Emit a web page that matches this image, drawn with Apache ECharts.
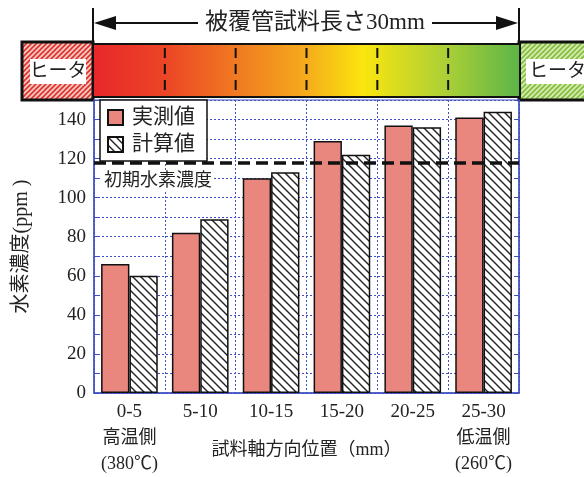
<!DOCTYPE html>
<html><head><meta charset="utf-8">
<script src="https://cdn.jsdelivr.net/npm/echarts@6/dist/echarts.min.js"></script>
<style>html,body{margin:0;padding:0;background:#fff}#c{width:584px;height:477px}</style>
</head><body><div id="c"></div>
<script>
// ---- data ----
const categories = ['0-5', '5-10', '10-15', '15-20', '20-25', '25-30'];
const subLabels = ['高温側', '', '', '', '', '低温側'];
const tempLabels = ['(380℃)', '', '', '', '', '(260℃)'];
const measured = [66, 82, 110, 129, 137, 141];
const calculated = [60, 89, 113, 122, 136, 144];
const initialConc = 118;
const seriesNames = ['実測値', '計算値'];
const yMax = 150;

// ---- helpers ----
function hatch(size, color, bg, dir, lw) {
  const c = document.createElement('canvas');
  c.width = c.height = size;
  const g = c.getContext('2d');
  g.fillStyle = bg; g.fillRect(0, 0, size, size);
  g.strokeStyle = color; g.lineWidth = lw; g.beginPath();
  if (dir === '\\') {
    g.moveTo(-1, -1); g.lineTo(size + 1, size + 1);
    g.moveTo(-1, size - 1); g.lineTo(1, size + 1);
    g.moveTo(size - 1, -1); g.lineTo(size + 1, 1);
  } else {
    g.moveTo(-1, size + 1); g.lineTo(size + 1, -1);
    g.moveTo(-1, 1); g.lineTo(1, -1);
    g.moveTo(size - 1, size + 1); g.lineTo(size + 1, size - 1);
  }
  g.stroke();
  return c;
}
const FONT = '"Liberation Serif", "Noto Sans CJK JP", serif';
const BLUE = '#3e4fc2';
const GRID_L = 94, GRID_R = 519, GRID_T = 100, GRID_B = 393;
const W = 584, H = 477;

const barHatch = { image: hatch(8, '#222', '#fff', '\\', 1.4), repeat: 'repeat' };
const redHeater = { image: hatch(5, '#e0302c', '#f7c9c2', '/', 1.6), repeat: 'repeat' };
const greenHeater = { image: hatch(5, '#84bd3c', '#d5eab0', '/', 1.6), repeat: 'repeat' };

const chart = echarts.init(document.getElementById('c'), null, { renderer: 'canvas' });

// decoration on top (heater / gradient sample bar)
const graphics = [];
const topY = 44, botY = 97;
graphics.push({ type: 'rect', shape: { x: 22, y: 42, width: 71, height: 58 }, style: { fill: redHeater, stroke: '#111', lineWidth: 3 } });
graphics.push({ type: 'rect', shape: { x: 30, y: 59, width: 56, height: 25 }, style: { fill: '#fff' } });
graphics.push({ type: 'text', x: 58, y: 72, style: { text: 'ヒータ', font: '19px ' + FONT, fill: '#222', align: 'center', verticalAlign: 'middle' } });
graphics.push({ type: 'rect', shape: { x: GRID_R, y: 42, width: 80, height: 58 }, style: { fill: greenHeater, stroke: '#111', lineWidth: 3 } });
graphics.push({ type: 'rect', shape: { x: 526, y: 59, width: 62, height: 25 }, style: { fill: '#fff' } });
graphics.push({ type: 'text', x: 529, y: 72, style: { text: 'ヒータ', font: '19px ' + FONT, fill: '#222', align: 'left', verticalAlign: 'middle' } });
graphics.push({ type: 'rect', shape: { x: GRID_L - 1, y: topY, width: GRID_R - GRID_L + 2, height: botY - topY },
  style: { stroke: '#111', lineWidth: 2, fill: { type: 'linear', x: 0, y: 0, x2: 1, y2: 0, colorStops: [
    { offset: 0, color: '#e8262b' }, { offset: 0.17, color: '#ec4526' }, { offset: 0.34, color: '#f07b22' },
    { offset: 0.5, color: '#f5ab1b' }, { offset: 0.63, color: '#fbe50f' }, { offset: 0.83, color: '#a9cf37' },
    { offset: 1, color: '#5bb447' }] } } });
for (let i = 1; i < categories.length; i++) {
  const x = GRID_L + i * (GRID_R - GRID_L) / categories.length;
  graphics.push({ type: 'line', shape: { x1: x, y1: topY + 4, x2: x, y2: botY - 4 }, style: { stroke: '#111', lineWidth: 2, lineDash: [10, 6] } });
}
// length arrow
const ay = 23;
graphics.push({ type: 'line', shape: { x1: GRID_L - 1, y1: 8, x2: GRID_L - 1, y2: 42 }, style: { stroke: '#111', lineWidth: 2 } });
graphics.push({ type: 'line', shape: { x1: GRID_R, y1: 8, x2: GRID_R, y2: 42 }, style: { stroke: '#111', lineWidth: 2 } });
graphics.push({ type: 'line', shape: { x1: GRID_L + 18, y1: ay, x2: 198, y2: ay }, style: { stroke: '#111', lineWidth: 2 } });
graphics.push({ type: 'line', shape: { x1: 432, y1: ay, x2: GRID_R - 18, y2: ay }, style: { stroke: '#111', lineWidth: 2 } });
graphics.push({ type: 'polygon', shape: { points: [[GRID_L, ay], [GRID_L + 22, ay - 7], [GRID_L + 22, ay + 7]] }, style: { fill: '#111' } });
graphics.push({ type: 'polygon', shape: { points: [[GRID_R - 1, ay], [GRID_R - 23, ay - 7], [GRID_R - 23, ay + 7]] }, style: { fill: '#111' } });
graphics.push({ type: 'text', x: 315, y: ay, style: { text: '被覆管試料長さ30mm', font: '23px ' + FONT, fill: '#222', align: 'center', verticalAlign: 'middle' } });

const option = {
  animation: false,
  backgroundColor: '#fff',
  textStyle: { fontFamily: FONT },
  grid: { left: GRID_L, right: W - GRID_R, top: GRID_T, bottom: H - GRID_B, show: true, borderColor: BLUE, borderWidth: 1,
    backgroundColor: 'transparent', containLabel: false, outerBoundsMode: 'none' },
  legend: {
    left: 100, top: 100, orient: 'vertical', icon: 'rect',
    itemWidth: 15, itemHeight: 15, itemGap: 6,
    padding: [7, 12, 6, 7],
    borderColor: '#111', borderWidth: 1.5, backgroundColor: '#fff',
    textStyle: { fontSize: 21, color: '#222', fontFamily: FONT, padding: [0, 0, 0, 4] },
    data: seriesNames
  },
  xAxis: {
    type: 'category', data: categories,
    name: '試料軸方向位置（mm）', nameLocation: 'middle', nameGap: 48, nameMoveOverlap: false,
    nameTextStyle: { fontSize: 18, color: '#222', fontFamily: FONT },
    axisLine: { lineStyle: { color: BLUE, width: 1.5 } },
    axisTick: { inside: true, length: 6, lineStyle: { color: BLUE } },
    splitLine: { show: true, lineStyle: { color: BLUE, type: [2, 2], width: 1 } },
    axisLabel: {
      interval: 0, margin: 6, color: '#222', fontFamily: FONT,
      formatter: function (v, i) {
        let s = '{a|' + v + '}';
        if (subLabels[i]) s += '\n{b|' + subLabels[i] + '}\n{b|' + tempLabels[i] + '}';
        return s;
      },
      rich: {
        a: { fontSize: 19, lineHeight: 26, color: '#222', fontFamily: FONT },
        b: { fontSize: 18, lineHeight: 26, color: '#222', fontFamily: FONT }
      }
    }
  },
  yAxis: [{
    type: 'value', min: 0, max: yMax, interval: 10,
    name: '水素濃度(ppm )', nameLocation: 'middle', nameGap: 62, nameRotate: 90, nameMoveOverlap: false,
    nameTextStyle: { fontSize: 20, color: '#222', fontFamily: FONT },
    axisLine: { show: true, lineStyle: { color: BLUE, width: 1.5 } },
    axisTick: { show: true, inside: true, length: 5, lineStyle: { color: BLUE } },
    splitLine: { show: true, lineStyle: { color: BLUE, type: [2, 2], width: 1 } },
    axisLabel: { fontSize: 19, color: '#222', margin: 8, fontFamily: FONT,
      formatter: v => (v % 20 === 0 && v < yMax) ? String(v) : '' }
  }, {
    type: 'value', min: 0, max: yMax, interval: 10, position: 'right',
    axisLine: { show: true, lineStyle: { color: BLUE, width: 1.5 } },
    axisTick: { show: true, inside: true, length: 5, lineStyle: { color: BLUE } },
    splitLine: { show: false }, axisLabel: { show: false }
  }],
  series: [{
    name: seriesNames[0], type: 'bar', data: measured,
    barGap: '0%', barCategoryGap: '20%',
    itemStyle: { color: '#e9877f', borderColor: '#111', borderWidth: 1.5 },
    markLine: {
      silent: true, symbol: ['none', 'none'],
      lineStyle: { color: '#111', type: [12, 6], width: 3.5 },
      label: { show: true, position: 'insideStartBottom', formatter: '初期水素濃度', fontSize: 18, color: '#222',
        fontFamily: FONT, backgroundColor: '#fff', padding: [1, 2], distance: [8, 9] },
      data: [{ yAxis: initialConc }]
    }
  }, {
    name: seriesNames[1], type: 'bar', data: calculated,
    barGap: '0%', barCategoryGap: '20%',
    itemStyle: { color: barHatch, borderColor: '#111', borderWidth: 1.5 }
  }],
  graphic: graphics
};
chart.setOption(option);
</script>
</body></html>
